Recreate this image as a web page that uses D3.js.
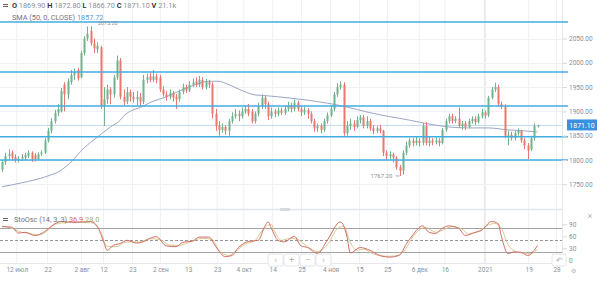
<!DOCTYPE html>
<html><head><meta charset="utf-8">
<script src="https://cdn.jsdelivr.net/npm/d3@7"></script>
<style>body{margin:0;background:#fff;} svg{display:block;font-family:Roboto,"Noto Sans",sans-serif;}</style>
</head><body><svg id="c" width="600" height="282"></svg>
<script>
// [open, high, low, close]
const candles = [
[1780,1800,1775,1796],[1796,1815,1790,1808],[1808,1822,1800,1812],[1815,1820,1800,1805],[1806,1812,1795,1800],
[1800,1808,1795,1803],[1803,1812,1798,1806],[1805,1815,1800,1810],[1808,1820,1804,1815],[1815,1818,1796,1800],
[1810,1814,1797,1802],[1802,1816,1800,1812],[1812,1820,1808,1815],[1815,1845,1812,1840],[1840,1866,1836,1860],
[1860,1886,1855,1880],[1880,1903,1875,1897],[1897,1915,1890,1905],[1900,1948,1898,1942],[1955,1960,1900,1935],
[1935,1968,1925,1962],[1960,1985,1955,1975],[1975,1988,1965,1980],[1985,1990,1963,1968],[1970,2025,1968,2020],
[2020,2055,2015,2050],[2050,2075,2045,2060],[2065,2075.2,2035,2040],[2040,2050,2020,2030],[2028,2042,2020,2035],
[2032,2035,1905,1912],[1912,1950,1870,1925],[1925,1955,1915,1945],[1945,1950,1915,1935],[1935,1975,1928,1970],
[1970,2015,1965,2005],[2005,2010,1925,1930],[1930,1945,1912,1920],[1920,1950,1915,1940],[1940,1945,1920,1930],
[1930,1940,1918,1925],[1925,1942,1912,1930],[1930,1938,1910,1920],[1920,1975,1915,1965],[1965,1978,1958,1970],
[1972,1980,1960,1965],[1965,1985,1960,1972],[1972,1978,1958,1965],[1970,1975,1940,1945],[1945,1952,1930,1935],
[1935,1942,1922,1930],[1930,1945,1925,1938],[1938,1942,1920,1928],[1930,1936,1905,1925],[1925,1945,1920,1940],
[1940,1957,1935,1950],[1950,1955,1938,1943],[1943,1962,1940,1955],[1955,1968,1950,1960],[1962,1970,1950,1955],
[1955,1973,1950,1965],[1965,1970,1945,1950],[1950,1967,1945,1960],[1960,1965,1948,1955],[1955,1960,1885,1895],
[1895,1905,1860,1870],[1870,1880,1850,1862],[1862,1875,1856,1868],[1868,1872,1852,1860],[1860,1885,1850,1880],
[1880,1898,1875,1890],[1890,1905,1885,1895],[1895,1902,1880,1890],[1890,1908,1885,1900],[1900,1912,1895,1905],
[1905,1915,1890,1895],[1900,1905,1875,1880],[1880,1900,1875,1895],[1895,1918,1890,1910],[1910,1935,1905,1928],
[1928,1933,1905,1915],[1915,1920,1882,1890],[1890,1908,1885,1900],[1900,1905,1888,1895],[1895,1908,1890,1902],
[1902,1908,1892,1897],[1897,1912,1893,1905],[1905,1920,1900,1912],[1912,1918,1898,1905],[1905,1925,1900,1918],
[1918,1922,1900,1905],[1905,1910,1890,1898],[1898,1910,1893,1903],[1903,1907,1885,1895],[1895,1900,1875,1880],
[1880,1885,1858,1865],[1865,1875,1858,1870],[1870,1875,1855,1862],[1862,1885,1858,1880],[1880,1898,1875,1892],
[1892,1912,1888,1905],[1905,1940,1900,1935],[1935,1958,1930,1950],[1950,1962,1945,1955],[1955,1960,1850,1855],
[1855,1880,1850,1870],[1870,1885,1862,1875],[1875,1882,1860,1868],[1868,1890,1865,1882],[1882,1892,1875,1888],
[1888,1893,1865,1870],[1870,1890,1865,1880],[1880,1885,1860,1865],[1865,1872,1853,1860],[1860,1870,1855,1865],
[1865,1872,1855,1860],[1860,1862,1808,1815],[1815,1820,1800,1808],[1808,1818,1800,1812],[1812,1815,1795,1805],
[1805,1808,1780,1785],[1785,1790,1767.2,1778],[1778,1820,1770,1815],[1815,1838,1810,1830],[1830,1845,1825,1840],
[1840,1845,1828,1835],[1835,1848,1830,1840],[1840,1845,1828,1835],[1835,1876,1830,1870],[1870,1878,1830,1835],
[1835,1848,1828,1840],[1840,1845,1830,1836],[1836,1848,1832,1840],[1840,1845,1828,1835],[1835,1866,1832,1862],
[1862,1885,1858,1880],[1880,1895,1875,1890],[1890,1895,1875,1880],[1880,1890,1876,1885],[1885,1908,1866,1870],
[1870,1880,1862,1875],[1875,1880,1862,1868],[1868,1885,1865,1880],[1880,1890,1875,1885],[1885,1890,1872,1878],
[1878,1895,1875,1890],[1890,1905,1885,1898],[1898,1902,1885,1892],[1892,1932,1888,1928],[1928,1950,1925,1945],
[1945,1959,1940,1950],[1950,1955,1910,1915],[1915,1920,1905,1910],[1910,1915,1845,1850],[1850,1860,1830,1852],
[1852,1858,1840,1845],[1845,1860,1840,1855],[1855,1865,1850,1860],[1860,1862,1835,1840],[1840,1845,1822,1830],
[1830,1835,1802,1820],[1822,1850,1818,1845],[1845,1875,1840,1869.9],[1869.9,1872.8,1866.7,1871.1]
];
// SMA(50) read at [candle index, value]
const smaPoints = [[0,1745],[6,1753],[13,1765],[18,1779],[21,1796],[25,1825],[29,1847],[33,1868],[36,1882],[37,1890],
[43,1911],[45,1918],[50,1930],[54,1942],[58,1953],[63,1962],[66,1962],[68,1958],[72,1946],[77,1934],[81,1932],
[87,1928],[93,1923],[99,1917],[105,1909],[111,1899],[115,1893],[120,1887],[124,1882],[130,1874],[136,1868],
[142,1866],[148,1866],[154,1862],[159,1860],[163,1857.72]];
// Stochastic %K and %D read at [candle index, value]
const kPoints = [[0,84],[3,83],[5,68],[7,70],[10,62],[13,72],[15,85],[18,97],[22,95],[27,97],[29,85],[31,45],[32,25],
[34,38],[36,42],[38,50],[41,43],[44,50],[45,55],[47,59],[50,36],[53,34],[55,45],[58,48],[60,58],[63,58],[65,35],
[68,9],[70,12],[72,32],[75,47],[78,50],[80,85],[81,96],[82,80],[84,50],[86,46],[89,60],[91,36],[93,32],[96,17],
[99,50],[103,96],[105,60],[106,18],[109,32],[112,25],[115,12],[118,8],[121,13],[123,40],[125,63],[128,86],[130,70],
[132,67],[134,80],[136,86],[139,80],[141,62],[144,70],[146,75],[149,97],[151,92],[152,60],[154,17],[156,21],
[158,20],[160,12],[162,25],[163,36.9]];
const dPoints = [[0,86],[3,80],[6,70],[8,68],[11,63],[14,75],[16,90],[21,95],[27,94],[30,72],[32,35],[35,34],[37,44],
[39,46],[42,46],[45,54],[48,52],[51,38],[54,37],[57,45],[61,55],[64,52],[66,25],[69,12],[71,22],[74,40],[77,49],
[79,72],[82,90],[83,72],[85,50],[88,55],[90,52],[93,34],[96,22],[99,38],[102,78],[104,85],[106,45],[108,25],
[110,28],[113,16],[117,10],[120,11],[123,30],[125,58],[129,82],[132,70],[134,75],[137,84],[140,78],[142,66],
[145,72],[148,88],[150,92],[152,80],[154,40],[157,20],[159,18],[161,16],[163,28]];
const levels = [1800, 1848, 1911, 1981, 2084];
const lastPrice = 1871.10;
const highLabel = {idx: 27, value: 2075.20};
const lowLabel = {idx: 121, value: 1767.20};
const priceTicks = [1750,1800,1850,1900,1950,2000,2050];
const oscTicks = [0,30,60,90];
const oscBands = [20,50,80];
const dateTickIdx = [4.5,13.9,24.2,30.9,39.7,48.2,56.7,65.5,73.6,82.4,91.2,100,108.8,117.3,127,134.8,147,160.3,168.8];
const dateTickLabels = ["12 июл","22","2 авг","12","23","2 сен","13","23","4 окт","14","25","4 ноя","15","25","6 дек","16","2021","19","28"];
const legendOHLC = [["O","1869.90"],["H","1872.80"],["L","1866.70"],["C","1871.10"],["V","21.1k"]];

const svg = d3.select("#c");
const plotR = 562;
const x = d3.scaleLinear().domain([0, candles.length-1]).range([2, 537.5]);
const y = d3.scaleLinear().domain([1800, 2050]).range([160, 38.5]);
const yo = d3.scaleLinear().domain([0, 100]).range([260.3, 220.3]);
const mainTop = 0, mainBot = 207, oscTop = 213, oscBot = 263;
const txt = "#8a8f99";
const green = "#6fb48c", red = "#e9796f";

const defs = svg.append("defs");
defs.append("clipPath").attr("id","mc").append("rect").attr("x",0).attr("y",mainTop).attr("width",plotR).attr("height",mainBot-mainTop);
defs.append("clipPath").attr("id","oc").append("rect").attr("x",0).attr("y",oscTop).attr("width",plotR).attr("height",oscBot-oscTop);

// vertical grid
svg.append("g").selectAll("line").data(dateTickIdx).join("line")
  .attr("x1",d=>x(d)).attr("x2",d=>x(d)).attr("y1",0).attr("y2",oscBot)
  .attr("stroke",(d,i)=>dateTickLabels[i]==="2021"?"#d5d9e0":"#eef0f4").attr("stroke-width",1);
// horizontal grid main
svg.append("g").selectAll("line").data(priceTicks).join("line")
  .attr("x1",0).attr("x2",plotR).attr("y1",d=>Math.round(y(d))+0.5).attr("y2",d=>Math.round(y(d))+0.5)
  .attr("stroke","#eef0f4");
svg.append("line").attr("x1",plotR+0.5).attr("x2",plotR+0.5).attr("y1",0).attr("y2",oscBot).attr("stroke","#e3e6ec");
svg.append("line").attr("x1",0).attr("x2",plotR).attr("y1",209.5).attr("y2",209.5).attr("stroke","#e3e6ec").attr("stroke-width",1.5);
svg.append("rect").attr("x",280).attr("y",208).attr("width",10).attr("height",3).attr("rx",1).attr("fill","#d5d9e0");
svg.append("line").attr("x1",0).attr("x2",plotR).attr("y1",oscBot+0.5).attr("y2",oscBot+0.5).attr("stroke","#e3e6ec");

const main = svg.append("g").attr("clip-path","url(#mc)");
main.append("line").attr("x1",0).attr("x2",plotR).attr("y1",y(lastPrice)).attr("y2",y(lastPrice)).attr("stroke","#c4d9ee").attr("stroke-width",1);
svg.append("g").selectAll("line").data(levels).join("line")
  .attr("x1",0).attr("x2",568).attr("y1",d=>y(d)).attr("y2",d=>y(d))
  .attr("stroke","#42ade0").attr("stroke-width",1.5);
main.append("path").datum(smaPoints).attr("fill","none").attr("stroke","#9aa6c4").attr("stroke-width",1)
  .attr("d", d3.line().x(d=>x(d[0])).y(d=>y(d[1])).curve(d3.curveMonotoneX));
const cg = main.append("g");
cg.selectAll("line").data(candles).join("line")
  .attr("x1",(d,i)=>Math.round(x(i))+0.5).attr("x2",(d,i)=>Math.round(x(i))+0.5)
  .attr("y1",d=>y(d[1])).attr("y2",d=>y(d[2]))
  .attr("stroke",d=>d[3]>=d[0]?green:red).attr("stroke-width",1);
cg.selectAll("rect").data(candles).join("rect")
  .attr("x",(d,i)=>Math.round(x(i))-0.5).attr("width",2)
  .attr("y",d=>y(Math.max(d[0],d[3]))).attr("height",d=>Math.max(1,Math.abs(y(d[0])-y(d[3]))))
  .attr("fill",d=>d[3]>=d[0]?green:red);

svg.append("text").attr("x",x(highLabel.idx)+7).attr("y",y(highLabel.value)-1).attr("font-size",5.5).attr("fill",txt).text(highLabel.value.toFixed(2));
svg.append("text").attr("x",x(lowLabel.idx)-29).attr("y",y(lowLabel.value)+2).attr("font-size",6).attr("fill",txt).text(lowLabel.value.toFixed(2));
svg.append("path").attr("d",`M${x(lowLabel.idx)-4},${y(lowLabel.value)} h4`).attr("stroke",txt).attr("stroke-width",0.8);

const ya = svg.append("g").attr("transform",`translate(${plotR},0)`)
  .call(d3.axisRight(y).tickValues(priceTicks).tickFormat(d3.format(".2f")).tickSize(5).tickPadding(2));
ya.select(".domain").remove();
ya.selectAll("line").attr("stroke","#d5d9e0");
ya.selectAll("text").attr("font-size",6.5).attr("fill",txt).attr("font-family","Roboto");
svg.append("rect").attr("x",567).attr("y",y(lastPrice)-6).attr("width",30).attr("height",11).attr("fill","#3a8fde");
svg.append("text").attr("x",582).attr("y",y(lastPrice)+2.5).attr("text-anchor","middle").attr("font-size",7).attr("fill","#fff").text(lastPrice.toFixed(2));

const osc = svg.append("g").attr("clip-path","url(#oc)");
osc.selectAll("line").data(oscBands).join("line")
  .attr("x1",0).attr("x2",plotR).attr("y1",d=>Math.round(yo(d))+0.5).attr("y2",d=>Math.round(yo(d))+0.5)
  .attr("stroke",d=>d===50?"#8a8a8a":"#9a9a9a").attr("stroke-dasharray",d=>d===50?"3,2":null).attr("stroke-width",0.9);
const ln = d3.line().x(d=>x(d[0])).y(d=>yo(d[1])).curve(d3.curveMonotoneX);
osc.append("path").datum(dPoints).attr("fill","none").attr("stroke","#d6c98f").attr("stroke-width",1).attr("d",ln);
osc.append("path").datum(kPoints).attr("fill","none").attr("stroke","#d06e68").attr("stroke-width",1).attr("d",ln);
const oa = svg.append("g").attr("transform",`translate(${plotR},0)`)
  .call(d3.axisRight(yo).tickValues(oscTicks).tickSize(5).tickPadding(2));
oa.select(".domain").remove();
oa.selectAll("line").attr("stroke","#d5d9e0");
oa.selectAll("text").attr("font-size",6.5).attr("fill",txt).attr("font-family","Roboto");
svg.append("text").attr("x",590).attr("y",219).attr("text-anchor","middle").attr("font-size",9).attr("fill","#b0b4bb").text("×");

const xa = svg.append("g").attr("transform",`translate(0,${oscBot})`)
  .call(d3.axisBottom(x).tickValues(dateTickIdx).tickFormat((d,i)=>dateTickLabels[i]).tickSize(0).tickPadding(4));
xa.select(".domain").remove();
xa.selectAll("text").attr("font-size",6.5).attr("fill",txt).attr("font-family","Roboto");

const btns = [["‹",268],["+",284],["−",300],["›",316]];
const bg = svg.append("g");
btns.forEach(([s,bx])=>{
  bg.append("rect").attr("x",bx).attr("y",254).attr("width",15).attr("height",12).attr("rx",2).attr("fill","#fff").attr("fill-opacity",0.85).attr("stroke","#e3e6ec");
  bg.append("text").attr("x",bx+7.5).attr("y",263).attr("text-anchor","middle").attr("font-size",9).attr("fill","#b0b4bb").text(s);
});
bg.append("rect").attr("x",552).attr("y",254).attr("width",14).attr("height",12).attr("rx",2).attr("fill","#fff").attr("stroke","#e3e6ec");
bg.append("text").attr("x",559).attr("y",263).attr("text-anchor","middle").attr("font-size",8).attr("fill","#b0b4bb").text("↶");
svg.append("text").attr("x",571).attr("y",273).attr("font-size",6).attr("fill","#b0b4bb").text("⚙");

function handle(g, yy){ g.append("path").attr("d",`M3,${yy-3.5}h5M3,${yy-1.5}h5`).attr("stroke","#555").attr("stroke-width",0.9); }
const lg = svg.append("g");
handle(lg, 8);
const t1 = lg.append("text").attr("x",12).attr("y",8).attr("font-size",7.3);
legendOHLC.forEach(([k,v])=>{
  t1.append("tspan").attr("fill","#333").attr("font-weight","bold").text(k+" ");
  t1.append("tspan").attr("fill",txt).text(v+"   ");
});
const t2 = lg.append("text").attr("x",12).attr("y",20).attr("font-size",7.3);
t2.append("tspan").attr("fill","#707680").text("SMA (50, 0, CLOSE) ");
t2.append("tspan").attr("fill","#5a9ad8").text(smaPoints[smaPoints.length-1][1].toFixed(2));
handle(lg, 222);
const t3 = lg.append("text").attr("x",14).attr("y",222).attr("font-size",7.3);
t3.append("tspan").attr("fill","#707680").text("StoOsc (14, 3, 3) ");
t3.append("tspan").attr("fill","#d9645c").text(kPoints[kPoints.length-1][1].toFixed(1)+" ");
t3.append("tspan").attr("fill","#9cb45a").text(dPoints[dPoints.length-1][1].toFixed(1));
</script></body></html>
